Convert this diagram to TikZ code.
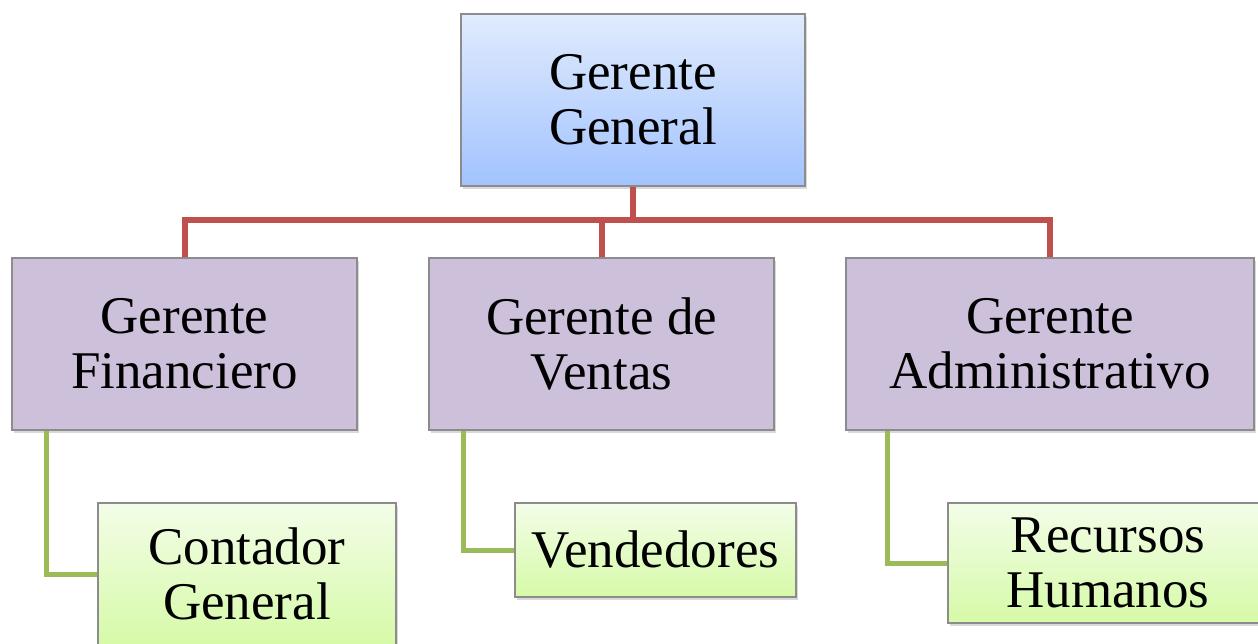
\documentclass[tikz,border=0pt]{standalone}
\usepackage{fontspec}
\setmainfont{Liberation Serif}
\usetikzlibrary{shadows}

\definecolor{rojolinea}{HTML}{C0504D}
\definecolor{verdelinea}{HTML}{9BBB59}
\definecolor{lila}{HTML}{CCC0DA}
\definecolor{azularriba}{HTML}{E0EBFD}
\definecolor{azulabajo}{HTML}{A2C3FE}
\definecolor{verdearriba}{HTML}{F3FDE8}
\definecolor{verdeabajo}{HTML}{D6FAA8}
\definecolor{borde}{HTML}{8C8C8C}

\begin{document}
\begin{tikzpicture}[x=1pt,y=-1pt,
    puesto/.style={draw=borde, line width=1.2pt, align=center, inner sep=0pt,
      font=\fontsize{53}{55}\selectfont,
      drop shadow={shadow xshift=2pt, shadow yshift=-3pt, opacity=0.3}},
    gerente/.style={puesto, top color=azularriba, bottom color=azulabajo,
      minimum width=344pt, minimum height=172pt},
    jefe/.style={puesto, fill=lila, minimum height=172pt},
    auxiliar/.style={puesto, top color=verdearriba, bottom color=verdeabajo},
    ramarojo/.style={rojolinea, line width=6pt},
    ramaverde/.style={verdelinea, line width=5pt}]
  \useasboundingbox (0,0) rectangle (1258,644);

  % cargos
  \node[gerente] (gg) at (633,100) {Gerente\\General};
  \node[jefe, minimum width=345pt] (gf) at (184.5,344) {Gerente\\Financiero};
  \node[jefe, minimum width=345pt] (gv) at (601.5,344) {Gerente de\\Ventas};
  \node[jefe, minimum width=408pt] (ga) at (1050,344) {Gerente\\Administrativo};
  \node[auxiliar, minimum width=298pt, minimum height=142pt] (cg) at (247,574) {Contador\\General};
  \node[auxiliar, minimum width=281pt, minimum height=94pt] (ve) at (655.5,550) {Vendedores};
  \node[auxiliar, minimum width=320pt, minimum height=120pt] (rh) at (1108,563) {Recursos\\Humanos};

  % lineas
  \coordinate (barra) at (633,220);
  \draw[ramarojo] (gg.south) -- (barra);
  \draw[ramarojo] (gf.north) |- (barra) -| (ga.north);
  \draw[ramarojo] (gv.north) -- (gv.north |- barra);
  \foreach \arriba/\abajo/\dx in {gf/cg/35, gv/ve/35, ga/rh/42}
    \draw[ramaverde] ([xshift=\dx pt]\arriba.south west) |- (\abajo.west);
\end{tikzpicture}
\end{document}
